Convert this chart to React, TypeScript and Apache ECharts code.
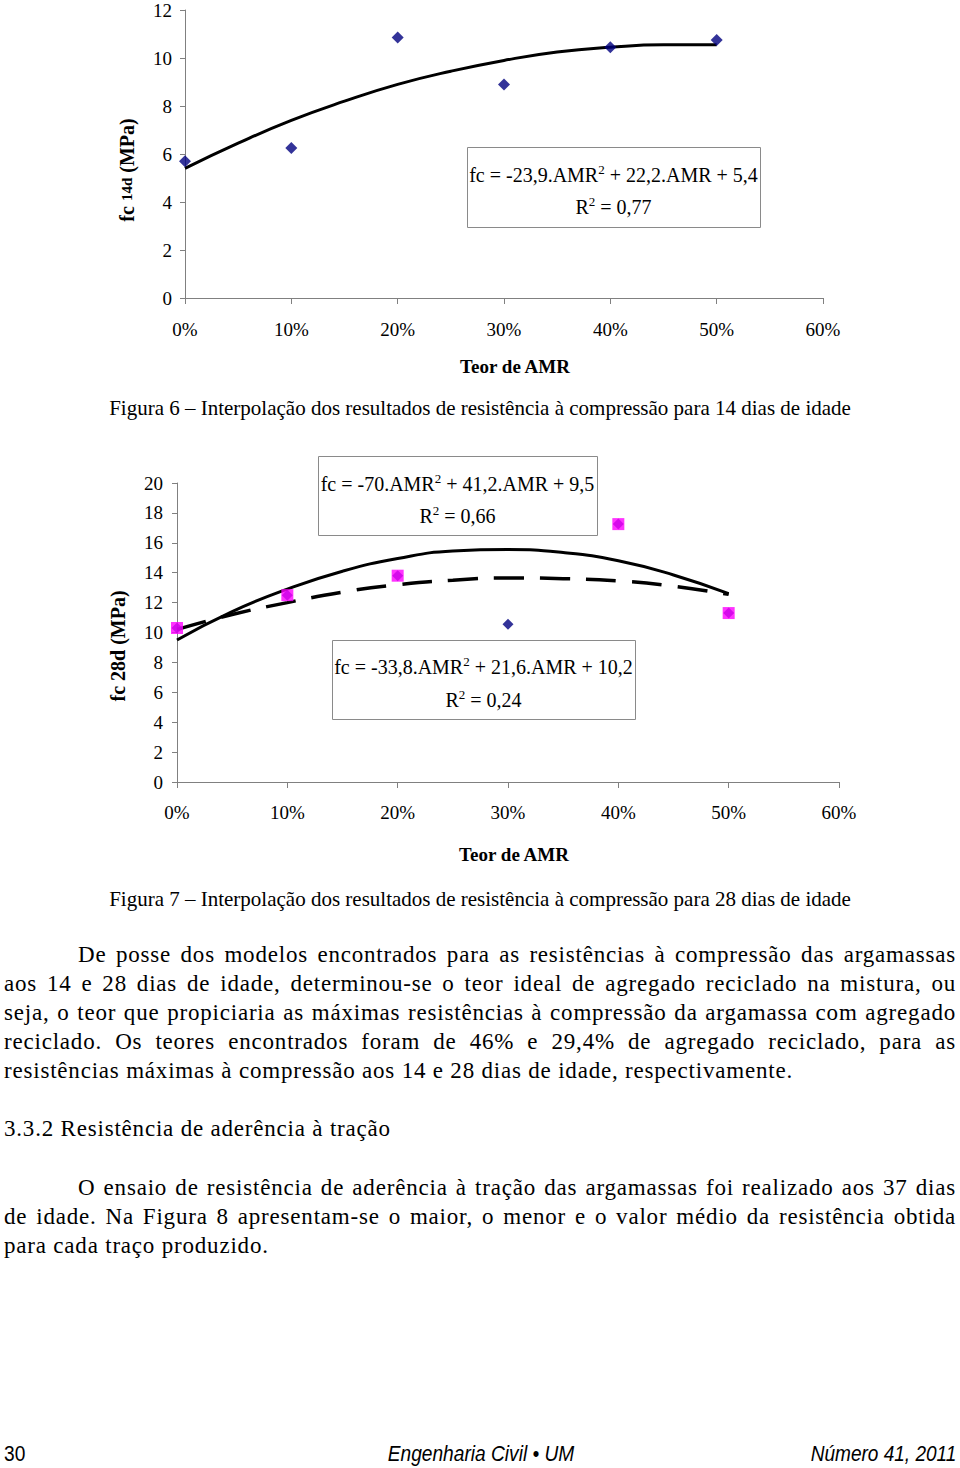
import React, { useEffect, useRef } from "react";
import * as echarts from "echarts";

// ---------- data ----------
const amrLevels = [0, 0.1, 0.2, 0.3, 0.4, 0.5];
const fc14Measured = [5.7, 6.25, 10.85, 8.9, 10.45, 10.75];
const trendAmr = [0, 0.05, 0.1, 0.15, 0.2, 0.25, 0.3, 0.35, 0.4, 0.45, 0.5];
const fc14Trend = [5.4, 6.45, 7.4, 8.2, 8.9, 9.45, 9.9, 10.25, 10.45, 10.55, 10.55];
const fc28AllPoints = [10.3, 12.5, 13.8, 10.55, 17.25, 11.3];
const fc28Selected = [10.3, 12.5, 13.8, null, 17.25, 11.3];
const fc28TrendSelected = [9.5, 11.4, 12.9, 14.1, 14.95, 15.45, 15.55, 15.35, 14.8, 13.85, 12.6];
const fc28TrendAll = [10.2, 11.2, 12.0, 12.7, 13.2, 13.5, 13.65, 13.6, 13.45, 13.1, 12.55];

const eq14 = ["fc = -23,9.AMR", " + 22,2.AMR + 5,4", " = 0,77"];
const eq28a = ["fc = -70.AMR", " + 41,2.AMR + 9,5", " = 0,66"];
const eq28b = ["fc = -33,8.AMR", " + 21,6.AMR + 10,2", " = 0,24"];

const caption6 = "Figura 6 – Interpolação dos resultados de resistência à compressão para 14 dias de idade";
const caption7 = "Figura 7 – Interpolação dos resultados de resistência à compressão para 28 dias de idade";
const xTitle = "Teor de AMR";

const para1 = [
  "De posse dos modelos encontrados para as resistências à compressão das argamassas",
  "aos 14 e 28 dias de idade, determinou-se o teor ideal de agregado reciclado na mistura, ou",
  "seja, o teor que propiciaria as máximas resistências à compressão da argamassa com agregado",
  "reciclado. Os teores encontrados foram de 46% e 29,4% de agregado reciclado, para as",
  "resistências máximas à compressão aos 14 e 28 dias de idade, respectivamente.",
];
const heading = "3.3.2 Resistência de aderência à tração";
const para2 = [
  "O ensaio de resistência de aderência à tração das argamassas foi realizado aos 37 dias",
  "de idade. Na Figura 8 apresentam-se o maior, o menor e o valor médio da resistência obtida",
  "para cada traço produzido.",
];

const serif = '"Liberation Serif", "Times New Roman", serif';

function pts(xs: number[], ys: (number | null)[]) {
  return xs.map((x, i) => [x, ys[i]]).filter((p) => p[1] !== null);
}

function eqBox(x: number, y: number, w: number, h: number, parts: string[], l1: number, l2: number) {
  const cx = x + w / 2;
  const rich = {
    t: { fontFamily: serif, fontSize: 20, lineHeight: 24, verticalAlign: "middle", fill: "#000" },
    s: { fontFamily: serif, fontSize: 13, lineHeight: 24, verticalAlign: "top", fill: "#000" },
  };
  return [
    {
      type: "rect",
      z: 20,
      shape: { x: x + 0.5, y: y + 0.5, width: w, height: h },
      style: { fill: "#fff", stroke: "#8a8a8a", lineWidth: 1 },
    },
    {
      type: "text",
      z: 21,
      style: {
        x: cx,
        y: l1,
        text: `{t|${parts[0]}}{s|2}{t|${parts[1]}}`,
        rich,
        align: "center",
        verticalAlign: "middle",
      },
    },
    {
      type: "text",
      z: 21,
      style: {
        x: cx,
        y: l2,
        text: `{t|R}{s|2}{t|${parts[2]}}`,
        rich,
        align: "center",
        verticalAlign: "middle",
      },
    },
  ];
}

function plainText(x: number, y: number, text: string, font: string, align = "center", rotation = 0) {
  return {
    type: "text",
    z: 21,
    x,
    y,
    rotation,
    style: { x: 0, y: 0, text, font, fill: "#000", align, verticalAlign: "middle" },
  };
}

function makeXAxis(gridIndex: number, fontSize: number, margin: number) {
  return {
    type: "value",
    gridIndex,
    min: 0,
    max: 0.6,
    interval: 0.1,
    axisLine: { show: true, lineStyle: { color: "#808080", width: 1 } },
    axisTick: { show: true, length: 6, lineStyle: { color: "#808080" } },
    splitLine: { show: false },
    axisLabel: {
      fontFamily: serif,
      fontSize,
      color: "#000",
      margin,
      formatter: (v: number) => Math.round(v * 100) + "%",
    },
  };
}

function makeYAxis(gridIndex: number, max: number, fontSize: number, margin: number) {
  return {
    type: "value",
    gridIndex,
    min: 0,
    max,
    interval: 2,
    axisLine: { show: true, lineStyle: { color: "#808080", width: 1 } },
    axisTick: { show: true, length: 5, lineStyle: { color: "#808080" } },
    splitLine: { show: false },
    axisLabel: { fontFamily: serif, fontSize, color: "#000", margin },
  };
}

function Chart() {
  const ref = useRef<HTMLDivElement>(null);
  useEffect(() => {
    if (!ref.current) return;
    const chart = echarts.init(ref.current, null, { renderer: "svg" });
    const option: any = {
      animation: false,
      backgroundColor: "#ffffff",
      grid: [
        { left: 185, top: 10, width: 638, height: 288 },
        { left: 177, top: 483, width: 662, height: 299 },
      ],
      xAxis: [makeXAxis(0, 19, 22), makeXAxis(1, 19, 21)],
      yAxis: [makeYAxis(0, 12, 19, 13), makeYAxis(1, 20, 19, 14)],
      series: [
        {
          type: "line",
          xAxisIndex: 0,
          yAxisIndex: 0,
          data: pts(trendAmr, fc14Trend),
          smooth: true,
          showSymbol: false,
          lineStyle: { color: "#000", width: 3 },
          z: 2,
        },
        {
          type: "scatter",
          xAxisIndex: 0,
          yAxisIndex: 0,
          data: pts(amrLevels, fc14Measured),
          symbol: "diamond",
          symbolSize: 12,
          itemStyle: { color: "#000080" },
          z: 3,
        },
        {
          type: "line",
          xAxisIndex: 1,
          yAxisIndex: 1,
          data: pts(trendAmr, fc28TrendSelected),
          smooth: true,
          showSymbol: false,
          lineStyle: { color: "#000", width: 3 },
          z: 2,
        },
        {
          type: "line",
          xAxisIndex: 1,
          yAxisIndex: 1,
          data: pts(trendAmr, fc28TrendAll),
          smooth: true,
          showSymbol: false,
          lineStyle: { color: "#000", width: 3.5, type: [30, 16] },
          z: 2,
        },
        {
          type: "scatter",
          xAxisIndex: 1,
          yAxisIndex: 1,
          data: pts(amrLevels, fc28AllPoints),
          symbol: "diamond",
          symbolSize: 11,
          itemStyle: { color: "#000080" },
          z: 3,
        },
        {
          type: "scatter",
          xAxisIndex: 1,
          yAxisIndex: 1,
          data: pts(amrLevels, fc28Selected),
          symbol: "rect",
          symbolSize: 12,
          itemStyle: { color: "#ff00ff" },
          z: 4,
        },
      ],
      graphic: [
        ...eqBox(467, 147, 293, 80, eq14, 175, 207),
        ...eqBox(318, 456, 279, 79, eq28a, 484, 516),
        ...eqBox(332, 640, 303, 79, eq28b, 667, 700),
        plainText(515, 366, xTitle, `bold 19px ${serif}`),
        plainText(514, 854, xTitle, `bold 19px ${serif}`),
        {
          type: "text",
          z: 21,
          x: 127,
          y: 170,
          rotation: Math.PI / 2,
          style: {
            x: 0,
            y: 0,
            text: "{a|fc }{b|14d}{a| (MPa)}",
            rich: {
              a: { fontFamily: serif, fontWeight: "bold", fontSize: 20, lineHeight: 22, fill: "#000" },
              b: { fontFamily: serif, fontWeight: "bold", fontSize: 15, lineHeight: 22, fill: "#000" },
            },
            align: "center",
            verticalAlign: "middle",
          },
        },
        plainText(118, 646, "fc 28d (MPa)", `bold 20px ${serif}`, "center", Math.PI / 2),
        plainText(480, 408, caption6, `21px ${serif}`),
        plainText(480, 899, caption7, `21px ${serif}`),
      ],
    };
    chart.setOption(option);
    return () => chart.dispose();
  }, []);
  return <div ref={ref} style={{ position: "absolute", left: 0, top: 0, width: 960, height: 930 }} />;
}

const lineBase: React.CSSProperties = {
  position: "absolute",
  left: 4,
  width: 952,
  fontFamily: serif,
  fontSize: 23,
  lineHeight: "29px",
  letterSpacing: "0.8px",
  color: "#000",
  margin: 0,
};

function Para({ lines, top }: { lines: string[]; top: number }) {
  return (
    <>
      {lines.map((l, i) => {
        const last = i === lines.length - 1;
        return (
          <div
            key={i}
            style={{
              ...lineBase,
              top: top + i * 29,
              textIndent: i === 0 ? 74 : 0,
              textAlign: last ? "left" : "justify",
              textAlignLast: last ? "left" : "justify",
            }}
          >
            {l}
          </div>
        );
      })}
    </>
  );
}

const footFont = '"Liberation Sans", Arial, sans-serif';
const footBase: React.CSSProperties = {
  position: "absolute",
  top: 1441,
  fontFamily: footFont,
  fontSize: 22,
  lineHeight: "26px",
  color: "#000",
  whiteSpace: "nowrap",
};

export default function App() {
  return (
    <div style={{ position: "absolute", left: 0, top: 0, width: 960, height: 1468, background: "#fff", overflow: "hidden" }}>
      <Chart />
      <Para lines={para1} top={940} />
      <div style={{ ...lineBase, top: 1114 }}>{heading}</div>
      <Para lines={para2} top={1173} />
      <div style={{ ...footBase, left: 4, transform: "scaleX(0.87)", transformOrigin: "0 0" }}>30</div>
      <div
        style={{
          ...footBase,
          left: 281,
          width: 400,
          textAlign: "center",
          fontStyle: "italic",
          transform: "scaleX(0.87)",
          transformOrigin: "50% 0",
        }}
      >
        Engenharia Civil • UM
      </div>
      <div
        style={{
          ...footBase,
          right: 4,
          fontStyle: "italic",
          transform: "scaleX(0.865)",
          transformOrigin: "100% 0",
        }}
      >
        Número 41, 2011
      </div>
    </div>
  );
}
